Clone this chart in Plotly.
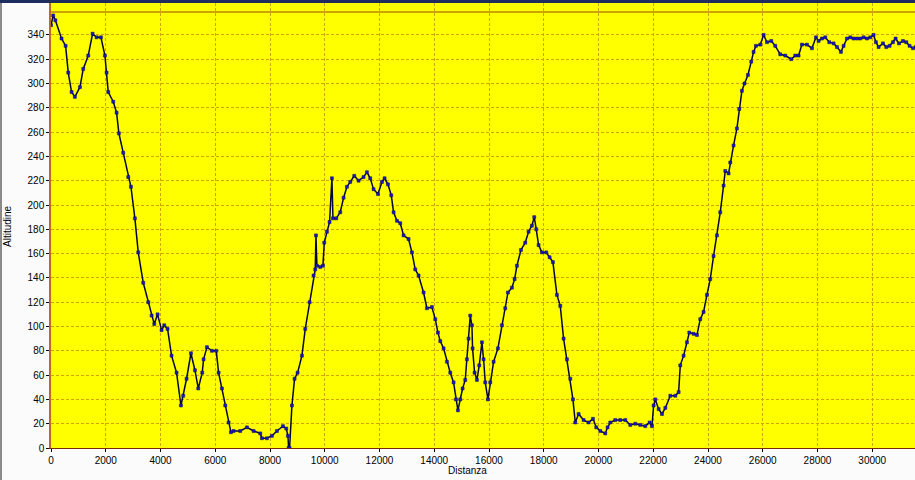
import plotly.graph_objects as go

distanza = [0, 80, 160, 385, 533, 630, 752, 872, 1057, 1178, 1361, 1519, 1665, 1824, 1970, 2030, 2091,
            2274, 2396, 2480, 2639, 2822, 2920, 3064, 3187, 3370, 3553, 3675, 3772, 3893, 4039, 4137,
            4258, 4404, 4587, 4746, 4831, 4953, 5112, 5258, 5379, 5525, 5574, 5696, 5878, 6037, 6122,
            6244, 6366, 6487, 6572, 6670, 6913, 7157, 7400, 7644, 7705, 7887, 8070, 8253, 8472, 8594,
            8655, 8679, 8716, 8801, 8898, 9008, 9167, 9288, 9446, 9592, 9653, 9678, 9714, 9836, 9933,
            9982, 10079, 10176, 10262, 10299, 10420, 10566, 10688, 10810, 10932, 11078, 11236, 11418,
            11540, 11662, 11783, 11943, 12089, 12186, 12308, 12430, 12515, 12637, 12758, 12880, 13062,
            13184, 13306, 13428, 13610, 13732, 13915, 14037, 14134, 14219, 14341, 14463, 14585, 14706,
            14791, 14865, 14950, 15035, 15132, 15193, 15254, 15315, 15376, 15400, 15473, 15559, 15644,
            15741, 15802, 15863, 15961, 16046, 16168, 16326, 16472, 16594, 16692, 16838, 16935, 17020,
            17167, 17324, 17445, 17567, 17653, 17726, 17811, 17933, 18091, 18213, 18335, 18481, 18603,
            18725, 18847, 18969, 19066, 19151, 19273, 19456, 19638, 19797, 19918, 20065, 20247, 20332,
            20430, 20612, 20795, 20978, 21161, 21344, 21526, 21709, 21867, 21953, 22014, 22075, 22197,
            22319, 22441, 22623, 22806, 22928, 22987, 23109, 23231, 23316, 23472, 23597, 23717, 23838,
            23961, 24082, 24203, 24326, 24447, 24569, 24630, 24752, 24813, 24934, 25056, 25141, 25239,
            25334, 25459, 25580, 25665, 25751, 25909, 26031, 26153, 26310, 26456, 26639, 26822, 27041,
            27187, 27309, 27431, 27614, 27797, 27943, 28040, 28162, 28284, 28430, 28588, 28710, 28856,
            28954, 29076, 29197, 29319, 29441, 29562, 29684, 29806, 29928, 30049, 30134, 30232, 30391,
            30512, 30634, 30756, 30853, 30975, 31121, 31242, 31364, 31486, 31590]

altitudine = [348, 356, 352, 337, 331, 309, 293, 289, 297, 312, 323, 341, 338, 338, 323, 309, 293,
              285, 276, 259, 243, 223, 215, 189, 161, 136, 120, 109, 102, 110, 97, 101,
              98, 76, 62, 35, 43, 57, 78, 64, 49, 62, 73, 83, 80, 80, 62,
              49, 35, 21, 13, 14, 14, 17, 14, 12, 8, 8, 10, 14, 18, 16,
              10, 0, 0, 35, 57, 62, 76, 98, 120, 142, 147, 175, 150, 149, 150,
              169, 178, 186, 222, 189, 189, 194, 206, 215, 219, 224, 220, 223,
              227, 222, 213, 209, 219, 222, 217, 208, 194, 187, 185, 175, 172,
              161, 147, 142, 128, 115, 116, 106, 95, 88, 82, 71, 62, 54,
              40, 31, 40, 49, 56, 73, 90, 109, 101, 82, 62, 56, 68,
              87, 73, 54, 40, 54, 71, 82, 101, 115, 128, 132, 139, 150,
              163, 169, 178, 183, 190, 180, 167, 161, 161, 157, 153, 126, 117,
              90, 73, 57, 40, 21, 28, 23, 21, 24, 17, 14, 12, 17,
              21, 23, 23, 23, 19, 20, 19, 18, 21, 18, 35, 40, 32,
              28, 33, 43, 43, 46, 68, 76, 87, 95, 94, 93, 106, 112,
              126, 139, 158, 175, 194, 216, 228, 226, 235, 249, 263, 279, 294,
              300, 307, 318, 326, 331, 332, 340, 334, 335, 331, 324, 323, 320,
              323, 323, 332, 332, 329, 338, 335, 337, 338, 334, 333, 330, 326,
              331, 337, 338, 337, 337, 337, 338, 337, 338, 340, 334, 330, 333,
              330, 331, 334, 337, 333, 335, 334, 331, 329, 330]

y_ticks = list(range(0, 341, 20))
x_ticks = list(range(0, 30001, 2000))
x_labels = [str(v) for v in x_ticks]

W, H = 915, 480
L, R, T, B = 51, 0, 3, 32
pw, ph = W - L - R, H - T - B
px_per_m = 54.75 / 2000
px_per_alt = 1.215
x_max = pw / px_per_m
y_max = ph / px_per_alt
frame_top = (448 - 12) / px_per_alt

fig = go.Figure()
fig.add_trace(go.Scatter(
    x=distanza, y=altitudine, mode="lines+markers",
    line=dict(color="#05053a", width=1.5),
    marker=dict(symbol="square", size=3, color="#1818c8",
                line=dict(color="#0a0a50", width=0.5)),
    showlegend=False, hoverinfo="x+y"))

grid = "#d4a400"
fig.update_layout(
    width=W, height=H,
    margin=dict(l=L, r=R, t=T, b=B, autoexpand=False),
    paper_bgcolor="#fbfbfb", plot_bgcolor="#ffff00",
    font=dict(family="Liberation Sans, Arial, sans-serif", size=10, color="#000000"),
    xaxis=dict(range=[0, x_max], tickvals=x_ticks, ticktext=x_labels, ticks="outside", ticklen=3,
               tickcolor="#000000", showgrid=True, gridcolor=grid, griddash="3px,2px",
               gridwidth=1, showline=True, linecolor="#7a2a08", linewidth=1,
               zeroline=False, tickfont=dict(size=10), automargin=False),
    yaxis=dict(range=[0, y_max], tickvals=y_ticks, ticks="outside", ticklen=3,
               tickcolor="#000000", showgrid=True, gridcolor=grid, griddash="3px,2px",
               gridwidth=1, showline=True, linecolor="#c06a1a", linewidth=1.5,
               zeroline=False, tickfont=dict(size=10), automargin=False),
    shapes=[
        dict(type="line", xref="paper", yref="y", x0=0, x1=1, y0=frame_top, y1=frame_top,
             line=dict(color="#9a4a10", width=1.2)),
        dict(type="rect", xref="paper", yref="paper", x0=-L / pw, x1=1,
             y0=1.0, y1=(H - B) / ph + 0.01, fillcolor="#1e2d5e", line=dict(width=0),
             layer="above"),
        dict(type="rect", xref="paper", yref="paper", x0=-L / pw, x1=(2 - L) / pw,
             y0=-B / ph, y1=1.0, fillcolor="#8a8a8a", line=dict(width=0)),
    ],
    annotations=[
        dict(text="Distanza", xref="paper", yref="paper",
             x=(467 - L) / pw, y=(448 - 470) / ph, showarrow=False,
             xanchor="center", yanchor="middle", font=dict(size=10)),
        dict(text="Altitudine", xref="paper", yref="paper",
             x=(8 - L) / pw, y=(448 - 226) / ph, showarrow=False, textangle=-90,
             xanchor="center", yanchor="middle", font=dict(size=10)),
    ],
)

fig.write_html("out.html", config={"displayModeBar": False},
               post_script="document.body.style.margin='0';document.body.style.overflow='hidden';")
